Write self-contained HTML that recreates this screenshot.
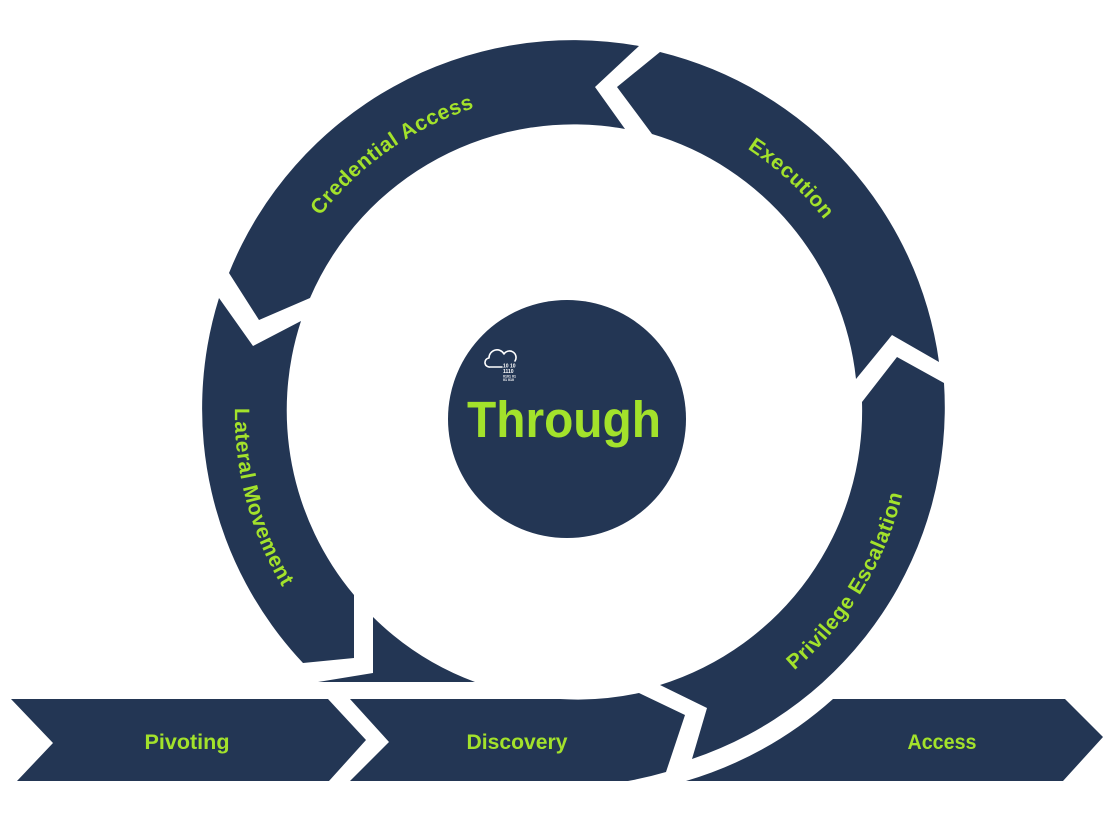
<!DOCTYPE html>
<html>
<head>
<meta charset="utf-8">
<style>
  html, body { margin: 0; padding: 0; background: #ffffff; }
  body { width: 1115px; height: 823px; overflow: hidden; }
  svg { display: block; }
  .lbl { font-family: "Liberation Sans", "DejaVu Sans", sans-serif; font-weight: bold; fill: #a3e22b; }
</style>
</head>
<body>
<svg width="1115" height="823" viewBox="0 0 1115 823" xmlns="http://www.w3.org/2000/svg">
  <defs>
    <path id="pCred" d="M 256.9,358.1 A 322 322 0 0 1 629.9,96.9" fill="none"/>
    <path id="pExec" d="M 561.3,97.3 A 317 317 0 0 1 890.7,401.3" fill="none"/>
    <path id="pPriv" d="M 652.9,742.7 A 338 338 0 0 0 902.7,335.1" fill="none"/>
    <path id="pLat" d="M 280.5,244.0 A 339 339 0 0 0 404.0,707.3" fill="none"/>
  </defs>

  <g fill="#233654">
    <!-- Credential Access -->
    <path d="M 639,46 A 371 371 0 0 0 229,273 L 259,320 L 310,298 A 287 287 0 0 1 625,129 L 595,87 Z"/>
    <!-- Execution -->
    <path d="M 660,52 A 371 371 0 0 1 939,362 L 892,335 L 856,379 A 287 287 0 0 0 652,134 L 617,87 Z"/>
    <!-- Privilege Escalation -->
    <path d="M 944,383 A 371 371 0 0 1 692,759 L 707,708 L 660,685 A 287 287 0 0 0 862,402 L 897,357 Z"/>
    <!-- Lateral Movement -->
    <path d="M 219,298 L 253,346 L 301,321 A 287 287 0 0 0 354,595 L 354,658 L 303,663 A 371 371 0 0 1 219,298 Z"/>
    <!-- bottom arrowhead piece -->
    <path d="M 373,617 L 373,673 L 318,682 L 475,682 A 287 287 0 0 1 373,617 Z"/>
    <!-- Discovery -->
    <path d="M 350,699 L 560,699 A 287 287 0 0 0 639,693 L 685,715 L 666,772 A 371 371 0 0 1 628,781 L 350,781 L 389,742 Z"/>
    <!-- Pivoting -->
    <path d="M 11,699 L 328,699 L 366,740 L 329,781 L 17,781 L 53,743 Z"/>
    <!-- Access -->
    <path d="M 833,699 L 1065,699 L 1103,737 L 1063,781 L 686,781 A 384 384 0 0 0 833,699 Z"/>
    <!-- center circle -->
    <circle cx="567" cy="419" r="119"/>
  </g>

  <!-- arc labels -->
  <text class="lbl" font-size="21" letter-spacing="0.6"><textPath href="#pCred" startOffset="50%" text-anchor="middle">Credential Access</textPath></text>
  <text class="lbl" font-size="21" letter-spacing="0.6"><textPath href="#pExec" startOffset="50%" text-anchor="middle">Execution</textPath></text>
  <text class="lbl" font-size="21" letter-spacing="0.6"><textPath href="#pPriv" startOffset="50%" text-anchor="middle">Privilege Escalation</textPath></text>
  <text class="lbl" font-size="21" letter-spacing="0.6"><textPath href="#pLat" startOffset="50%" text-anchor="middle">Lateral Movement</textPath></text>

  <!-- bottom labels -->
  <text class="lbl" x="187" y="749" font-size="21" text-anchor="middle" textLength="85" lengthAdjust="spacingAndGlyphs">Pivoting</text>
  <text class="lbl" x="517" y="749" font-size="21" text-anchor="middle" textLength="101" lengthAdjust="spacingAndGlyphs">Discovery</text>
  <text class="lbl" x="942" y="749" font-size="21" text-anchor="middle" textLength="69" lengthAdjust="spacingAndGlyphs">Access</text>

  <!-- center title -->
  <text class="lbl" x="467" y="437" font-size="51" textLength="194" lengthAdjust="spacingAndGlyphs">Through</text>

  <!-- cloud icon -->
  <g fill="none" stroke="#ffffff" stroke-width="1.6" stroke-linecap="round" stroke-linejoin="round">
    <path d="M 502,367 L 490,367 A 4.5 4.5 0 0 1 489,358 A 8 8 0 0 1 504,354 A 5.5 5.5 0 0 1 515,361"/>
  </g>
  <g fill="#ffffff" font-family="'Liberation Sans', sans-serif" font-weight="bold">
    <text x="503" y="367.5" font-size="5">10 10</text>
    <text x="503" y="373" font-size="5">1110</text>
    <text x="503" y="377.5" font-size="3.6">0101 01</text>
    <text x="503" y="381" font-size="3.6">01  010</text>
  </g>
</svg>
</body>
</html>
